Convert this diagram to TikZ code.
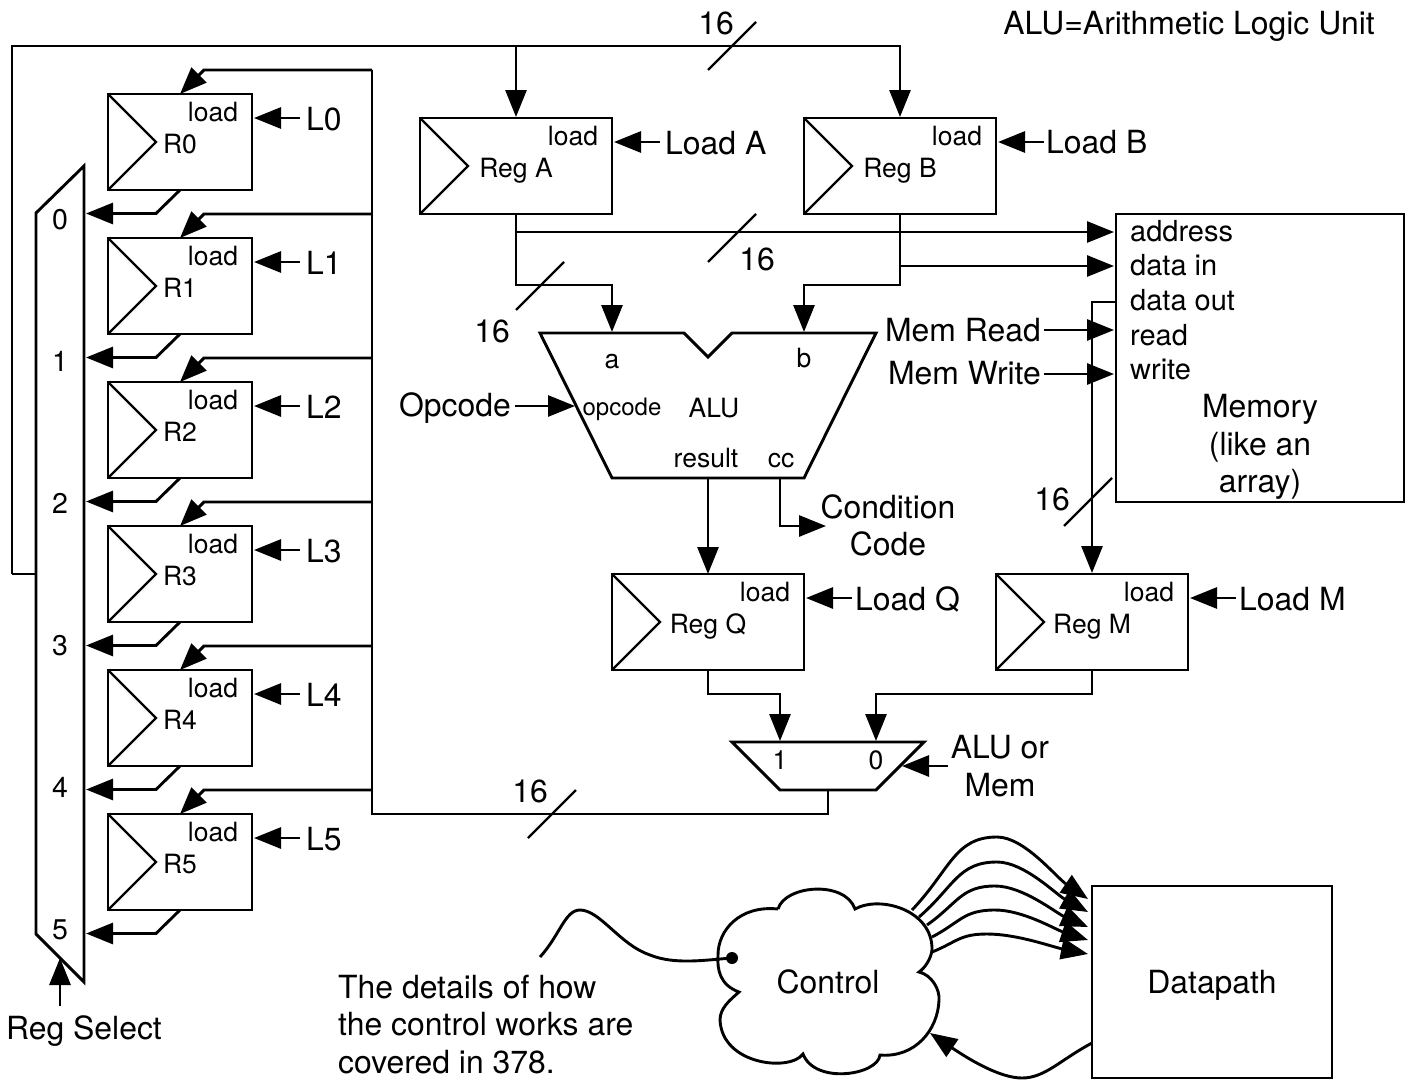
\documentclass[tikz,border=0pt]{standalone}
\usepackage{fontspec}
\setmainfont{TeX Gyre Heros}
\usetikzlibrary{arrows.meta,calc,positioning}
\tikzset{wire/.style={line width=2.9pt, line join=miter}, sig/.style={wire, -{Triangle[length=27pt,width=21pt]}}, regbox/.style={draw, line width=2.9pt, inner sep=0pt, outer sep=0pt, minimum width=192pt, minimum height=96pt}, lab/.style={font=\fontsize{31.9}{36}\selectfont, inner sep=0pt, text height=22.9pt, text depth=0pt}, sml/.style={font=\fontsize{26.5}{30}\selectfont, inner sep=0pt, text height=19pt, text depth=0pt}, memlab/.style={font=\fontsize{29}{33}\selectfont, inner sep=0pt, anchor=west, text height=20.8pt, text depth=0pt}}
\begin{document}
\begin{tikzpicture}[x=1pt,y=-1pt]
\useasboundingbox (0,0) rectangle (1410,1081);
% registers and selector
\draw[wire] (36,213)--(84,166)--(84,982)--(36,934)--cycle;
\foreach \i in {0,...,5}{
  \node[regbox, minimum width=144pt] (R\i) at (180,{142+144*\i}) {};
  \draw[wire, line width=2.4pt] (R\i.north west)--($(R\i.west)+(48,0)$)--(R\i.south west);
  \node[sml] (n\i) at ($(R\i.center)+(0,2)$) {R\i};
  \node[sml] (load\i) at ($(R\i.center)+(33,-30)$) {load};
  \node[lab, anchor=west] (L\i) at ($(R\i.east)+(54,-23)$) {L\i};
  \node[sml, font=\fontsize{28.5}{32}\selectfont, text height=20.5pt] (d\i) at (60,{219+142*\i}) {\i};
  \coordinate (bus\i) at (372,{70+144*\i});
  \coordinate (in\i) at (86,{213.5+144*\i});
  \draw[sig] (bus\i)--($(R\i.north)+(24,-24)$)--(R\i.north);
  \draw[sig] (R\i.south)--($(R\i.south)+(-24,23.5)$)--(in\i);
  \draw[sig] ($(R\i.east)+(48,-24)$)--($(R\i.east)+(2,-24)$);
}
\coordinate (selA) at (36,574);
\coordinate (selIn) at (60,958);
\node[lab] (regsel) at (84,1028) {Reg Select};
\draw[sig] (60,1006)--(selIn);
% top registers
\node[regbox] (RegA) at (516,166) {};
\node[regbox] (RegB) at (900,166) {};
\node[regbox] (RegQ) at (708,622) {};
\node[regbox] (RegM) at (1092,622) {};
\foreach \r/\t in {RegA/Reg A,RegB/Reg B,RegQ/Reg Q,RegM/Reg M}{
  \draw[wire, line width=2.4pt] (\r.north west)--($(\r.west)+(48,0)$)--(\r.south west);
  \node[sml] (\r txt) at ($(\r.center)+(0,2)$) {\t};
  \node[sml] (\r load) at ($(\r.center)+(57,-30)$) {load};
  \draw[sig] ($(\r.east)+(48,-24)$)--($(\r.east)+(2,-24)$);
}
\node[lab, anchor=west] (LoadA) at (665,143) {Load A};
\node[lab, anchor=west] (LoadB) at (1046,142) {Load B};
\node[lab, anchor=west] (LoadQ) at (855,599) {Load Q};
\node[lab, anchor=west] (LoadM) at (1239,599) {Load M};
% memory
\node[draw, line width=2.9pt, inner sep=0pt, outer sep=0pt, minimum width=288pt, minimum height=288pt] (Mem) at (1260,358) {};
\node[memlab] (mAddr) at (1130,231) {address};
\node[memlab] (mIn) at (1130,265) {data in};
\node[memlab] (mOut) at (1130,300) {data out};
\node[memlab] (mRead) at (1130,335) {read};
\node[memlab] (mWrite) at (1130,369) {write};
\node[lab] (memA) at (1260,406) {Memory};
\node[lab] (memB) at (1260,444) {(like an};
\node[lab] (memC) at (1260,481) {array)};
\node[lab, anchor=east] (MemRead) at (1041,330) {Mem Read};
\node[lab, anchor=east] (MemWrite) at (1041,373) {Mem Write};
\coordinate (mAddrIn) at (1114,232);
\coordinate (mInIn) at (1114,266);
\draw[sig] (1044,330)--(1114,330);
\draw[sig] (1044,374)--(1114,374);
\draw[sig] (1116,302)--(1092,302)--(1092,573);
% alu
\draw[wire] (540,333)--(684,333)--(708,357)--(732,333)--(876,333)--(804,478)--(612,478)--cycle;
\coordinate (aluA) at (612,332);
\coordinate (aluB) at (804,332);
\node[sml] (a) at (612,359) {a};
\node[sml] (b) at (804,358) {b};
\node[font=\fontsize{24}{28}\selectfont, inner sep=0pt] (opc) at (622,409) {opcode};
\node[sml] (alu) at (714,408) {ALU};
\node[sml] (res) at (706,458) {result};
\node[sml] (cc) at (781,458) {cc};
\node[lab, anchor=east] (Opcode) at (511,405) {Opcode};
\draw[sig] (515,406)--(575,406);
\node[lab] (cond) at (888,507) {Condition};
\node[lab] (code) at (888,544) {Code};
\draw[wire] (12,574)--(selA);
\draw[wire] (516,46)--(12,46)--(12,574);
\draw[sig] (516,46)--(516,117);
\draw[sig] (516,46)--(900,46)--(900,117);
\draw[wire] (RegA.south)--(516,232);
\draw[sig] (516,232)--(mAddrIn);
\draw[sig] (516,232)--(516,285)--(612,285)--(aluA);
\draw[sig] (RegB.south)--(900,285)--(804,285)--(aluB);
\draw[sig] (900,266)--(mInIn);
\draw[sig] (708,478)--(RegQ.north);
\draw[sig] (780,478)--(780,526)--(826,526);
% result mux
\draw[wire] (732,742)--(924,742)--(876,790)--(780,790)--cycle;
\node[sml] (one) at (780,760) {1};
\node[sml] (zero) at (876,760) {0};
\node[lab] (mA) at (1000,747) {ALU or};
\node[lab] (mB) at (1000,785) {Mem};
\draw[sig] (948,766)--(902,766);
\draw[sig] (RegQ.south)--(708,694)--(780,694)--(780,741);
\draw[sig] (RegM.south)--(1092,694)--(876,694)--(876,741);
\draw[wire] (828,790)--(828,814)--(372,814)--(bus0);
% bus widths
\foreach \x/\y in {708/70,708/262,516/310,1064/526,528/838}
  \draw[wire, line width=2.4pt] (\x,\y)--++(48,-48);
\node[lab] (w1) at (716,23) {16};
\node[lab] (w2) at (757,259) {16};
\node[lab] (w3) at (492,331) {16};
\node[lab] (w4) at (1052,499) {16};
\node[lab] (w5) at (530,791) {16};
\node[lab, anchor=east] (note) at (1375,23) {ALU=Arithmetic Logic Unit};
% control
\draw[wire] (778,909) .. controls (785,885) and (845,880) .. (855,909) .. controls (880,895) and (933,910) .. (932,950) .. controls (931,958) and (926,967) .. (919,972) .. controls (932,975) and (940,990) .. (939,1000) .. controls (938,1030) and (915,1058) .. (880,1055) .. controls (878,1075) and (815,1085) .. (803,1054) .. controls (790,1072) and (722,1065) .. (720,1020) .. controls (720,1008) and (730,1000) .. (739,992) .. controls (720,985) and (717,970) .. (718,955) .. controls (718,930) and (740,905) .. (778,909);
\node[lab] (ctl) at (828,982) {Control};
\node[draw, line width=2.9pt, inner sep=0pt, outer sep=0pt, minimum width=240pt, minimum height=192pt] (Data) at (1212,982) {};
\node[lab] (dtxt) at (1212,982) {Datapath};
\foreach \sx/\sy/\px/\py/\ey in {912/910/997/837/899,919/917/997/862/912,927/925/995/886/927,932/937/995/910/940,932/952/987/934/954}
  \draw[sig] (\sx,\sy) .. controls ({\sx+0.45*(\px-\sx)},{\sy+0.55*(\py-\sy)}) and ({\px-0.5*(\px-\sx)},\py) .. (\px,\py) .. controls ({\px+0.3*(1088-\px)},\py) and ({1088-0.35*(1088-\px)},{\ey-0.35*(\ey-\py)}) .. (1088,\ey);
\draw[sig] (Data.west|-0,1043) .. controls (1060,1060) and (1045,1078) .. (1022,1078) .. controls (1000,1078) and (970,1060) .. (930,1033);
\fill (732,958) circle (6pt) coordinate (dot);
\draw[wire] (540,957) .. controls (560,935) and (565,910) .. (580,910) .. controls (600,910) and (620,945) .. (650,955) .. controls (675,965) and (705,960) .. (dot);
\node[lab, anchor=west] (t1) at (338,987) {The details of how};
\node[lab, anchor=west] (t2) at (338,1024) {the control works are};
\node[lab, anchor=west] (t3) at (338,1062) {covered in 378.};
\end{tikzpicture}
\end{document}
